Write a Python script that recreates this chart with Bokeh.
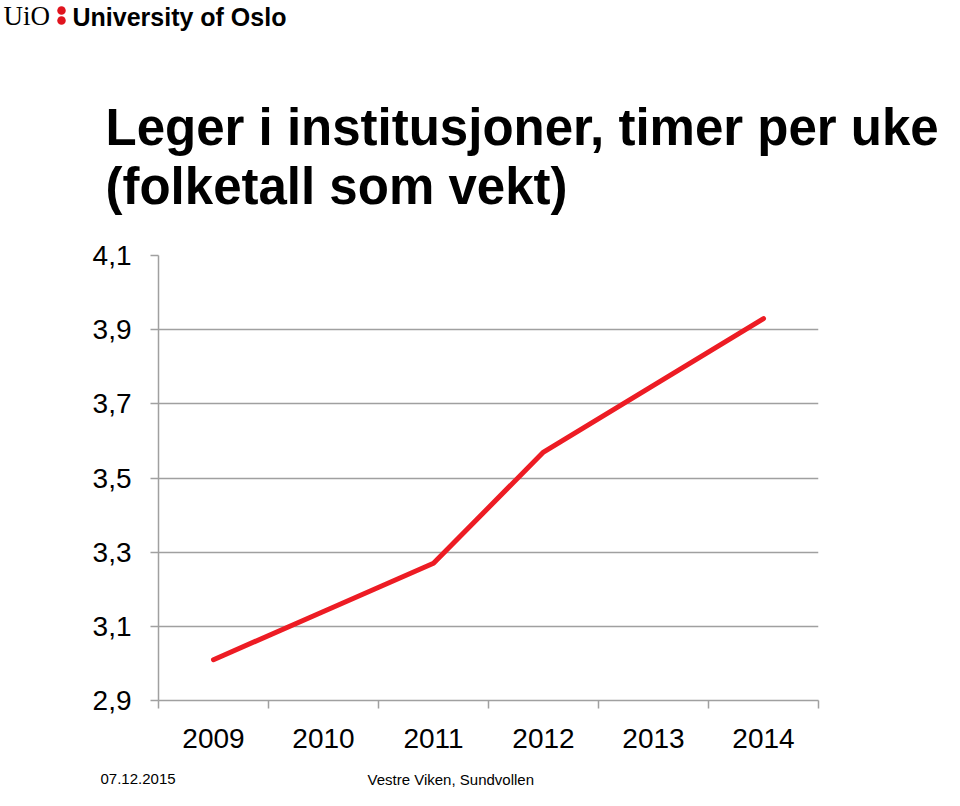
from bokeh.plotting import figure
from bokeh.models import FixedTicker, CustomJSTickFormatter, Range1d
from bokeh.layouts import column
from bokeh.core.properties import value
from bokeh.embed import file_html
from bokeh.resources import INLINE

years = [2009, 2010, 2011, 2012, 2013, 2014]
values = [3.01, 3.14, 3.27, 3.57, 3.75, 3.93]
y_ticks = [2.9, 3.1, 3.3, 3.5, 3.7, 3.9, 4.1]
x_bounds = [2008.5, 2009.5, 2010.5, 2011.5, 2012.5, 2013.5, 2014.5]
title_lines = ["Leger i institusjoner, timer per uke", "(folketall som vekt)"]
logo_serif = "UiO"
logo_bold = "University of Oslo"
footer_date = "07.12.2015"
footer_place = "Vestre Viken, Sundvollen"

FONT = "Liberation Sans"
GREY = "#a0a0a0"
RED = "#ed1c24"

W = 944
HEAD_H = 240          # header band: page rows 0..240
CHART_TOP = HEAD_H
CHART_BOTTOM = 760
FOOT_H = 790 - CHART_BOTTOM
FL, FR, FT, FB = 158, 818, 255, 700  # frame edges in page pixels


def base(y, size):
    # place the alphabetic baseline of a text glyph at page row y
    return y - 0.355 * size


def blank(height):
    f = figure(width=W, height=height, output_backend="svg", toolbar_location=None,
               x_range=Range1d(0, W), y_range=Range1d(height, 0),
               min_border=0, min_border_left=0, min_border_right=0,
               min_border_top=0, min_border_bottom=0, frame_align=False,
               x_axis_type=None, y_axis_type=None)
    f.grid.visible = False
    f.outline_line_color = None
    f.background_fill_color = "white"
    f.border_fill_color = "white"
    return f


# ---- header: logo and title ----
head = blank(HEAD_H)
head.text(x=[3], y=[base(25, 27)], text=[logo_serif], text_font=value("Liberation Serif"),
          text_font_size="27px", text_color="black", text_baseline="alphabetic")
head.scatter(x=[61, 61], y=[10, 20], size=8.5, marker="circle", fill_color="#e0141e", line_color=None)
head.text(x=[72], y=[base(25, 25)], text=[logo_bold], text_font=value(FONT), text_font_style="bold",
          text_font_size="25px", text_color="black", text_baseline="alphabetic")
head.text(x=[105, 105], y=[base(145, 51), base(204, 51)], text=title_lines, text_font=value(FONT),
          text_font_style="bold", text_font_size="51px", text_color="black",
          text_baseline="alphabetic")

# ---- chart ----
p = figure(width=W, height=CHART_BOTTOM - CHART_TOP, output_backend="svg", toolbar_location=None,
           x_range=(x_bounds[0], x_bounds[-1]), y_range=(y_ticks[0], y_ticks[-1]),
           min_border_left=FL, min_border_right=W - FR, min_border_top=FT - CHART_TOP,
           min_border_bottom=CHART_BOTTOM - FB, frame_align=False)
p.outline_line_color = None
p.background_fill_color = "white"
p.border_fill_color = "white"

p.line(years, values, line_color=RED, line_width=5, line_cap="round", line_join="round")

p.yaxis.ticker = FixedTicker(ticks=y_ticks)
p.yaxis.formatter = CustomJSTickFormatter(code="return tick.toFixed(1).replace('.', ',');")
p.yaxis.axis_line_color = GREY
p.yaxis.axis_line_width = 1.5
p.yaxis.major_tick_line_color = GREY
p.yaxis.major_tick_line_width = 1.5
p.yaxis.major_tick_out = 8
p.yaxis.major_tick_in = 0
p.yaxis.minor_tick_line_color = None
p.yaxis.major_label_text_font = FONT
p.yaxis.major_label_text_font_size = "28px"
p.yaxis.major_label_text_color = "black"
p.yaxis.major_label_standoff = 19

p.xaxis.ticker = FixedTicker(ticks=years, minor_ticks=x_bounds)
p.xaxis.axis_line_color = GREY
p.xaxis.axis_line_width = 1.5
p.xaxis.major_tick_line_color = None
p.xaxis.major_tick_out = 0
p.xaxis.major_tick_in = 0
p.xaxis.minor_tick_line_color = GREY
p.xaxis.minor_tick_line_width = 1.5
p.xaxis.minor_tick_out = 8
p.xaxis.minor_tick_in = 0
p.xaxis.major_label_text_font = FONT
p.xaxis.major_label_text_font_size = "28px"
p.xaxis.major_label_text_color = "black"
p.xaxis.major_label_standoff = 20

p.xgrid.grid_line_color = None
p.ygrid.ticker = FixedTicker(ticks=y_ticks)
p.ygrid.grid_line_color = GREY
p.ygrid.grid_line_width = 1.5

# ---- footer ----
foot = blank(FOOT_H)
fy = base(784, 15) - CHART_BOTTOM
foot.text(x=[100, 367], y=[fy, fy], text=[footer_date, footer_place],
          text_font=value(FONT), text_font_size="15px", text_color="black",
          text_baseline="alphabetic")

layout = column(head, p, foot, spacing=0)
open("out.html", "w").write(file_html(layout, INLINE))
